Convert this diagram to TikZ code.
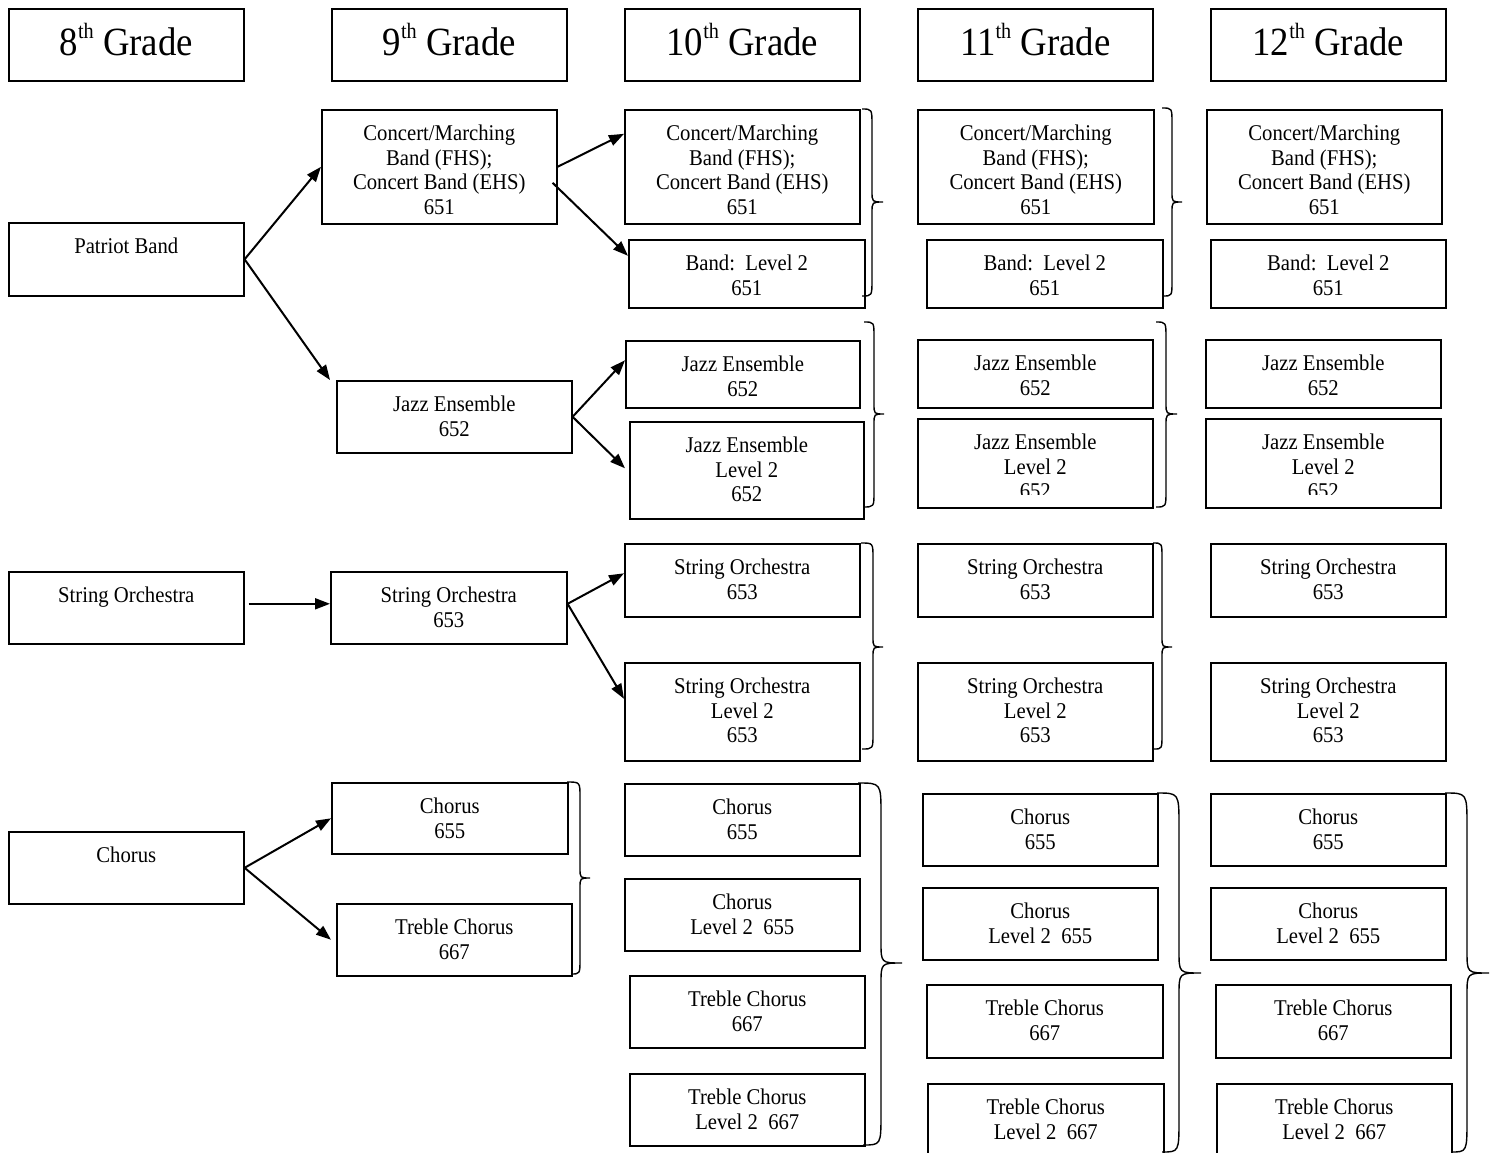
\documentclass[tikz,border=0pt]{standalone}
\usepackage{fontspec}
\setmainfont{Liberation Serif}[FakeStretch=0.92]
\usetikzlibrary{arrows.meta}
\tikzset{
  cb/.style={draw=black, line width=1.6pt, inner sep=0pt, anchor=north west,
    font=\fontsize{22.5pt}{24.5pt}\selectfont},
  hdr/.style={draw=black, line width=1.6pt, inner sep=0pt, minimum width=235pt,
    minimum height=72pt, text height=22pt, text depth=0pt, anchor=north west,
    font=\fontsize{40pt}{44pt}\selectfont},
  arr/.style={line width=2pt, -{Triangle[length=15pt,width=11pt]}},
  brc/.style={line width=1.4pt},
}
\newcommand\supth{\raisebox{17pt}{\fontsize{22pt}{22pt}\selectfont th}}
\newcommand\cbox[6]{%
  \pgfmathsetmacro\bw{#4-#2}%
  \pgfmathsetmacro\bh{#5-#3}%
  \node[cb] (#1) at (#2,#3) {\parbox[c][\bh pt][t]{\bw pt}{\centering\rule{0pt}{31pt}#6}};%
}
\newcommand\rbr[7]{%
  \pgfmathsetmacro\ra{1.5*(#6-#5)}%
  \pgfmathsetmacro\rb{(#6-#5)}%
  \draw[brc] (#1,#2) .. controls (#5,#2) .. (#5,#2+\ra) -- (#5,#7-\rb)
     .. controls (#5,#7) .. (#6,#7) .. controls (#5,#7) .. (#5,#7+\rb)
     -- (#5,#4-\ra) .. controls (#5,#4) .. (#3,#4);%
}
\begin{document}
\begin{tikzpicture}[x=1pt,y=-1pt]
\useasboundingbox (0,0) rectangle (1494,1153);
\fill[white] (0,0) rectangle (1494,1153);
\clip (0,0) rectangle (1494,1153);
% headers
\node[hdr] (h8) at (8,8) {8\supth{} Grade};
\node[hdr] (h9) at (331,8) {9\supth{} Grade};
\node[hdr] (h10) at (624,8) {10\supth{} Grade};
\node[hdr] (h11) at (917,8) {11\supth{} Grade};
\node[hdr] (h12) at (1210,8) {12\supth{} Grade};
% band
\cbox{pb8}{8}{222}{243}{295}{Patriot Band}
\cbox{cm9}{321}{109}{556}{223}{Concert/Marching\\Band (FHS);\\Concert Band (EHS)\\651}
\cbox{cm10}{624}{109}{859}{223}{Concert/Marching\\Band (FHS);\\Concert Band (EHS)\\651}
\cbox{bl10}{628}{239}{864}{307}{Band:\ \ Level 2\\651}
\cbox{cm11}{917}{109}{1153}{223}{Concert/Marching\\Band (FHS);\\Concert Band (EHS)\\651}
\cbox{bl11}{926}{239}{1162}{307}{Band:\ \ Level 2\\651}
\cbox{cm12}{1206}{109}{1441}{223}{Concert/Marching\\Band (FHS);\\Concert Band (EHS)\\651}
\cbox{bl12}{1210}{239}{1445}{307}{Band:\ \ Level 2\\651}
% jazz
\cbox{jz9}{336}{380}{571}{452}{Jazz Ensemble\\652}
\cbox{jz10}{625}{340}{859}{407}{Jazz Ensemble\\652}
\cbox{jl10}{629}{421}{863}{518}{Jazz Ensemble\\Level 2\\652}
\cbox{jz11}{917}{339}{1152}{407}{Jazz Ensemble\\652}
\cbox{jl11}{917}{418}{1152}{507}{Jazz Ensemble\\Level 2\\652}
\cbox{jz12}{1205}{339}{1440}{407}{Jazz Ensemble\\652}
\cbox{jl12}{1205}{418}{1440}{507}{Jazz Ensemble\\Level 2\\652}
\fill[white] (919,495) rectangle (1150,505.5);
\fill[white] (1207,495) rectangle (1438,505.5);
% strings
\cbox{so8}{8}{571}{243}{643}{String Orchestra}
\cbox{so9}{330}{571}{566}{643}{String Orchestra\\653}
\cbox{so10}{624}{543}{859}{616}{String Orchestra\\653}
\cbox{sl10}{624}{662}{859}{760}{String Orchestra\\Level 2\\653}
\cbox{so11}{917}{543}{1152}{616}{String Orchestra\\653}
\cbox{sl11}{917}{662}{1152}{760}{String Orchestra\\Level 2\\653}
\cbox{so12}{1210}{543}{1445}{616}{String Orchestra\\653}
\cbox{sl12}{1210}{662}{1445}{760}{String Orchestra\\Level 2\\653}
% chorus
\cbox{ch8}{8}{831}{243}{903}{Chorus}
\cbox{ch9}{331}{782}{567}{853}{Chorus\\655}
\cbox{tc9}{336}{903}{571}{975}{Treble Chorus\\667}
\cbox{ch10}{624}{783}{859}{855}{Chorus\\655}
\cbox{cl10}{624}{878}{859}{950}{Chorus\\Level 2\ \ 655}
\cbox{tc10}{629}{975}{864}{1047}{Treble Chorus\\667}
\cbox{tl10}{629}{1073}{864}{1145}{Treble Chorus\\Level 2\ \ 667}
\cbox{ch11}{922}{793}{1157}{865}{Chorus\\655}
\cbox{cl11}{922}{887}{1157}{959}{Chorus\\Level 2\ \ 655}
\cbox{tc11}{926}{984}{1162}{1057}{Treble Chorus\\667}
\cbox{tl11}{927}{1083}{1163}{1165}{Treble Chorus\\Level 2\ \ 667}
\cbox{ch12}{1210}{793}{1445}{865}{Chorus\\655}
\cbox{cl12}{1210}{887}{1445}{959}{Chorus\\Level 2\ \ 655}
\cbox{tc12}{1215}{984}{1450}{1057}{Treble Chorus\\667}
\cbox{tl12}{1216}{1083}{1451}{1165}{Treble Chorus\\Level 2\ \ 667}
% braces
\rbr{862}{109}{862}{296}{872}{883}{202}
\rbr{1162}{108}{1163}{296}{1172}{1182}{202}
\rbr{864}{322}{863}{507}{874}{884}{414}
\rbr{1156}{322}{1156}{507}{1166}{1177}{414}
\rbr{861}{543}{862}{749}{873}{883}{647}
\rbr{1153}{543}{1154}{749}{1162}{1172}{647}
\rbr{567}{782}{571}{974}{580}{590}{878}
\rbr{858}{783}{863}{1145}{881}{902}{963}
\rbr{1157}{793}{1162}{1152}{1179}{1201}{973}
\rbr{1445}{793}{1451}{1152}{1467}{1489}{973}
% arrows
\draw[arr] (pb8.east) -- (cm9.west);
\draw[arr] (pb8.east) -- ([xshift=-6pt]jz9.north west);
\draw[arr] (cm9.east) -- ([yshift=33pt]cm10.west);
\draw[arr] ([xshift=-5pt,yshift=-16pt]cm9.east) -- ([yshift=18pt]bl10.west);
\draw[arr] (jz9.east) -- ([yshift=14pt]jz10.west);
\draw[arr] (jz9.east) -- ([xshift=-4pt,yshift=2pt]jl10.west);
\draw[arr] ([xshift=4pt,yshift=4pt]so8.east) -- ([yshift=4pt]so9.west);
\draw[arr] ([yshift=4pt]so9.east) -- ([yshift=7pt]so10.west);
\draw[arr] ([yshift=4pt]so9.east) -- ([yshift=13pt]sl10.west);
\draw[arr] (ch8.east) -- (ch9.west);
\draw[arr] (ch8.east) -- ([xshift=-5pt]tc9.west);
\end{tikzpicture}
\end{document}
